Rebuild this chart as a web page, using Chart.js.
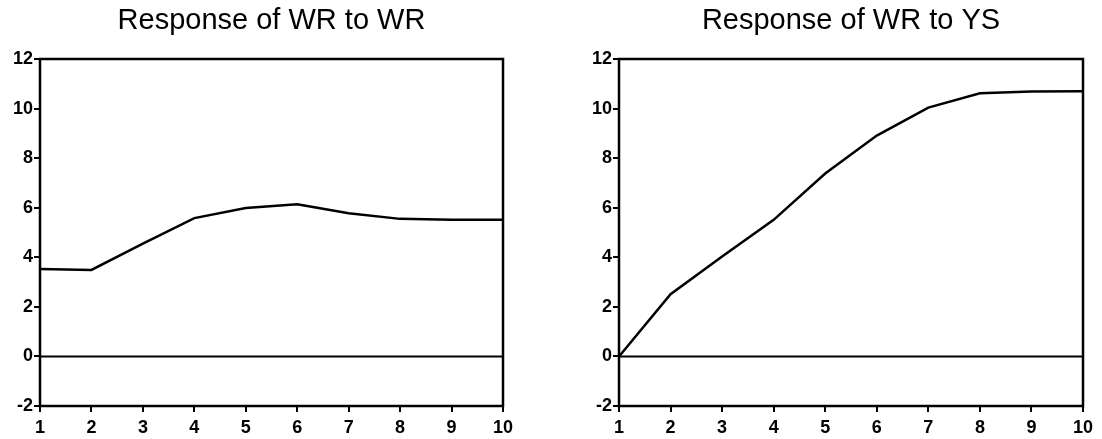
<!DOCTYPE html>
<html>
<head>
<meta charset="utf-8">
<script src="https://cdn.jsdelivr.net/npm/chart.js@4"></script>
<style>
  html, body { margin: 0; padding: 0; background: #fff; }
  body { width: 1102px; height: 439px; position: relative; overflow: hidden; }
  .panel { position: absolute; top: 0; height: 439px; }
</style>
</head>
<body>
<div class="panel" style="left:0;width:520px"><canvas id="c1"></canvas></div>
<div class="panel" style="left:579px;width:523px"><canvas id="c2"></canvas></div>
<script>
// Impulse responses over a 10-period horizon
const periods = ['1', '2', '3', '4', '5', '6', '7', '8', '9', '10'];
const wrToWr = [3.53, 3.49, 4.55, 5.58, 5.99, 6.14, 5.78, 5.55, 5.51, 5.51];
const wrToYs = [0.0, 2.51, 4.03, 5.51, 7.38, 8.91, 10.04, 10.62, 10.69, 10.70];
const zeroLine = [0, 0, 0, 0, 0, 0, 0, 0, 0, 0];
const yTicks = [-2, 0, 2, 4, 6, 8, 10, 12];
const titles = ['Response of WR to WR', 'Response of WR to YS'];

const FONT = '"Liberation Sans", Arial, Helvetica, sans-serif';

// Frame around the plot area plus a title centred over it
const framePlugin = {
  id: 'frameAndTitle',
  afterDraw(chart, args, opts) {
    const { ctx, chartArea: a } = chart;
    ctx.save();
    ctx.strokeStyle = '#000';
    ctx.lineWidth = 2.5;
    ctx.strokeRect(a.left, a.top, a.right - a.left, a.bottom - a.top);
    ctx.fillStyle = '#000';
    ctx.font = '29px ' + FONT;
    ctx.textAlign = 'center';
    ctx.textBaseline = 'alphabetic';
    ctx.fillText(opts.text, (a.left + a.right) / 2, 29);
    ctx.restore();
  }
};

function makeChart(id, values, title, padRight) {
  return new Chart(document.getElementById(id), {
    type: 'line',
    data: {
      labels: periods,
      datasets: [
        { data: values, borderColor: '#000', borderWidth: 2.5, pointRadius: 0, tension: 0, fill: false },
        { data: zeroLine, borderColor: '#000', borderWidth: 2, pointRadius: 0, tension: 0, fill: false }
      ]
    },
    options: {
      responsive: true,
      maintainAspectRatio: false,
      animation: false,
      events: [],
      layout: { padding: { left: 0, right: padRight, top: 59, bottom: 0 } },
      plugins: {
        legend: { display: false },
        tooltip: { enabled: false },
        frameAndTitle: { text: title }
      },
      scales: {
        x: {
          type: 'category',
          offset: false,
          border: { display: false },
          grid: { display: true, drawOnChartArea: false, drawTicks: true, tickLength: 6, color: '#000', lineWidth: 2 },
          ticks: { color: '#000', font: { family: FONT, size: 18, weight: 'bold' }, padding: 5, maxRotation: 0, autoSkip: false },
          afterFit(scale) { scale.height = 33; }
        },
        y: {
          min: -2, max: 12,
          border: { display: false },
          afterBuildTicks(scale) { scale.ticks = yTicks.map(v => ({ value: v })); },
          grid: { display: true, drawOnChartArea: false, drawTicks: true, tickLength: 6, color: '#000', lineWidth: 2 },
          ticks: { color: '#000', font: { family: FONT, size: 18, weight: 'bold' }, padding: 1 },
          afterFit(scale) { scale.width = 40; }
        }
      }
    },
    plugins: [framePlugin]
  });
}

makeChart('c1', wrToWr, titles[0], 17);
makeChart('c2', wrToYs, titles[1], 19);
</script>
</body>
</html>
